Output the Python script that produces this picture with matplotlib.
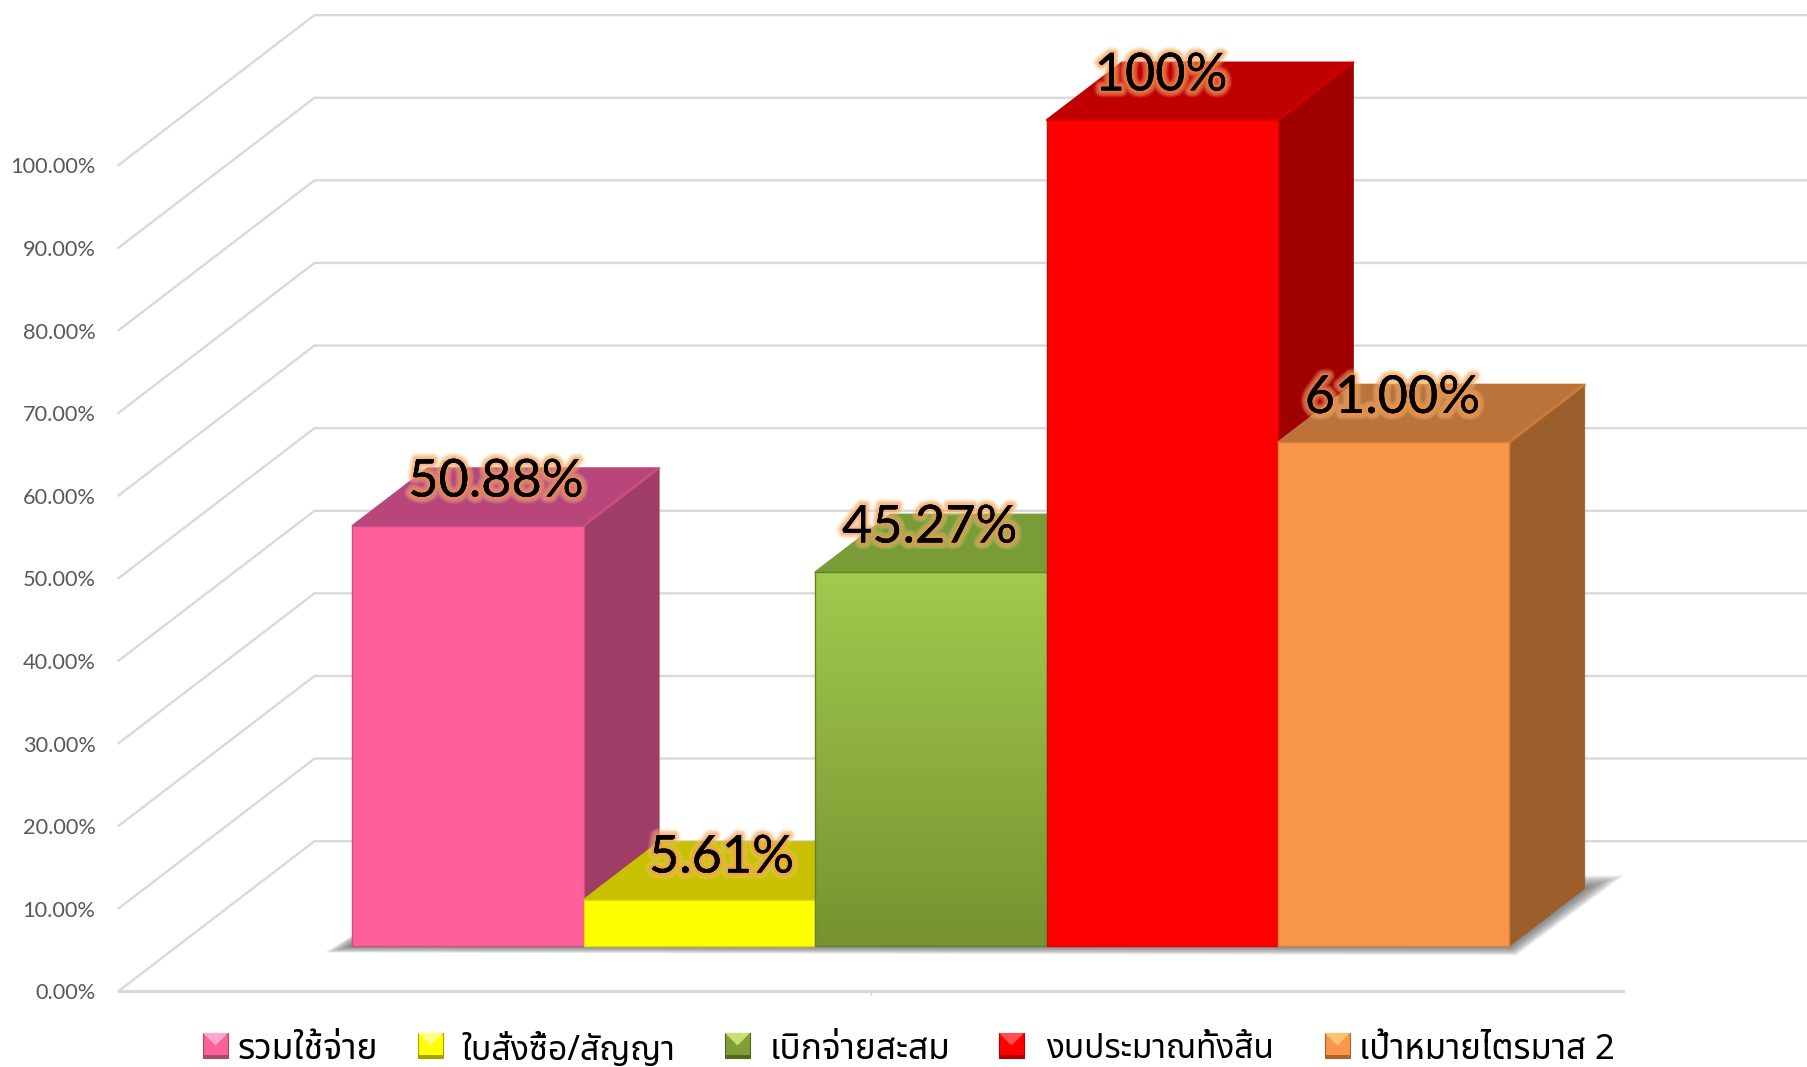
import numpy as np
import matplotlib
matplotlib.use("Agg")
from matplotlib import pyplot as plt
from matplotlib import patheffects as pe
from matplotlib.patches import Polygon, Rectangle

W, H = 1807, 1067

# values
categories = ["รวมใช้จ่าย", "ใบสั่งซื้อ/สัญญา", "เบิกจ่ายสะสม", "งบประมาณทั้งสิ้น", "เป้าหมายไตรมาส 2"]
values = [50.88, 5.61, 45.27, 100, 61.00]
value_labels = ["50.88%", "5.61%", "45.27%", "100%", "61.00%"]
ticks = [0, 10, 20, 30, 40, 50, 60, 70, 80, 90, 100]

front_colors = ["#ff6099", "#ffff00", "#7f9f36", "#ff0000", "#f9964a"]
edge_colors = ["#c8507f", "#e0e000", "#64802a", "#e00000", "#d98238"]
top_colors = ["#b8467a", "#c8c000", "#799c36", "#c00000", "#bb7339"]
side_colors = ["#9f3d66", "#c8c000", "#5f7a28", "#a00000", "#9c5f2c"]
legend_light = ["#ffa6cc", "#ffff80", "#c8e070", "#ff5050", "#ffc070"]
legend_dark = ["#a84a72", "#a8a000", "#4f6a20", "#b00000", "#a8652c"]

# oblique projection of the floor
UNIT_X = 231.4   # px per bar width
UNIT_Y = 8.26    # px per percent
ORIGIN_X = 118.7
ORIGIN_Y = 991.0
DX = 0.846
DY = 18.14
D0 = 0.30        # bar front depth
D1 = 0.685       # bar back depth
FLOOR_W = 6.5
FIRST_BAR = 0.756

plt.rcParams["font.family"] = ["Lato", "DejaVu Sans"]
fig = plt.figure(figsize=(W / 100, H / 100), dpi=100)
ax = fig.add_axes([0, 0, 1, 1])
ax.set_xlim(-ORIGIN_X / UNIT_X, (W - ORIGIN_X) / UNIT_X)
ax.set_ylim((ORIGIN_Y - H) / UNIT_Y, ORIGIN_Y / UNIT_Y)
ax.axis("off")


def proj(x, y, d):
    return (x + d * DX, y + d * DY)


# walls
for t in ticks:
    a = proj(0, t, 0)
    b = proj(0, t, 1)
    c = proj(10, t, 1)
    ax.plot([a[0], b[0], c[0]], [a[1], b[1], c[1]], color="#d9d9d9", lw=1.7, zorder=1,
            solid_joinstyle="miter")
a = proj(0, 0, 0)
b = proj(FLOOR_W, 0, 0)
ax.plot([a[0], b[0]], [a[1], b[1]], color="#d9d9d9", lw=2.2, zorder=1)
# the single category tick
ax.plot([FLOOR_W / 2, FLOOR_W / 2], [-0.2, -0.45], color="#d9d9d9", lw=0.8, zorder=1)

for t in ticks:
    ax.text(-0.1, t - 0.3, "{:.2f}%".format(t), ha="right", va="center", fontsize=15.7, color="#595959", zorder=1)

# soft shadow on the floor: stacked outlines going from the footprint to the outer edge
x_end = FIRST_BAR + len(values)
inner = np.array([proj(FIRST_BAR, 0, D0), proj(x_end, 0, D0), proj(x_end, 0, D1), proj(FIRST_BAR, 0, D1)])
outer = np.array([proj(FIRST_BAR - 0.12, -0.8, D0), proj(x_end + 0.03, -1.1, D0), proj(x_end + 0.17, 1.6, D1),
                  proj(FIRST_BAR, 0, D1)])
for k in np.linspace(1, 0, 14):
    ax.add_patch(Polygon(inner + k * (outer - inner), closed=True, fc="#5f5f5f", ec="none", alpha=0.09, zorder=2))

# bars, left to right so each one covers what is behind it
for i, v in enumerate(values):
    x0 = FIRST_BAR + i
    x1 = x0 + 1
    z = 3 + i
    side = [proj(x1, 0, D0), proj(x1, 0, D1), proj(x1, v, D1), proj(x1, v, D0)]
    top = [proj(x0, v, D0), proj(x1, v, D0), proj(x1, v, D1), proj(x0, v, D1)]
    front = [proj(x0, 0, D0), proj(x1, 0, D0), proj(x1, v, D0), proj(x0, v, D0)]
    ax.add_patch(Polygon(side, closed=True, fc=side_colors[i], ec=side_colors[i], lw=0.6, zorder=z))
    ax.add_patch(Polygon(top, closed=True, fc=top_colors[i], ec=top_colors[i], lw=1.2, zorder=z,
                         joinstyle="round"))
    # lighter bevel along the top edge of the side
    p = proj(x1, v, D0)
    q = proj(x1, v, D1)
    ax.plot([p[0], q[0]], [p[1], q[1]], color=front_colors[i], lw=2.2, alpha=0.28, zorder=z)
    if i == 2:
        # green bar has a vertical gradient
        grad = np.linspace(0, 1, 256)[:, None, None] * (np.array([0xa2, 0xca, 0x4e]) - np.array([0x76, 0x93, 0x2f])) \
            + np.array([0x76, 0x93, 0x2f])
        xa, ya = proj(x0, 0, D0)
        xb, yb = proj(x1, v, D0)
        ax.imshow(grad.astype(np.uint8), extent=(xa, xb, ya, yb), origin="lower", aspect="auto", zorder=z + 0.1)
        ax.add_patch(Polygon(front, closed=True, fc="none", ec=edge_colors[i], lw=1.0, zorder=z + 0.2,
                             joinstyle="round"))
    else:
        ax.add_patch(Polygon(front, closed=True, fc=front_colors[i], ec=edge_colors[i], lw=1.0, zorder=z + 0.1,
                             joinstyle="round"))

ax.set_xlim(-ORIGIN_X / UNIT_X, (W - ORIGIN_X) / UNIT_X)
ax.set_ylim((ORIGIN_Y - H) / UNIT_Y, ORIGIN_Y / UNIT_Y)

# value labels with the orange glow
label_shift = [0.12, 0.095, -0.005, -0.005, -0.005]
label_lift = [5.3, 5.05, 5.35, 5.35, 5.3]
glow = [pe.withStroke(linewidth=10, foreground="#fbd49c", alpha=0.14),
        pe.withStroke(linewidth=8, foreground="#fbc98a", alpha=0.22),
        pe.withStroke(linewidth=6, foreground="#f79646", alpha=0.3),
        pe.withStroke(linewidth=3.5, foreground="#f79646", alpha=0.4),
        pe.Normal()]
for i, v in enumerate(values):
    cx, cy = proj(FIRST_BAR + i + 0.5, v, D0)
    ax.text(cx + label_shift[i], cy + label_lift[i], value_labels[i], ha="center", va="center", fontsize=37.6,
            color="black", fontweight="normal", zorder=20, path_effects=glow)

# legend
swatch_left = [203, 418, 725, 999, 1325]
text_left = [238, 461, 770, 1046, 1359]
legend_size = [25.6, 24.4, 25.4, 24, 25]
for i, name in enumerate(categories):
    x0 = swatch_left[i] / W
    x1 = (swatch_left[i] + 25) / W
    y0 = 1 - 1058 / H
    y1 = 1 - 1033 / H
    xm = (x0 + x1) / 2
    ym = (y0 + y1) / 2
    fig.add_artist(Rectangle((x0, y0), x1 - x0, y1 - y0, transform=fig.transFigure, fc=front_colors[i],
                             ec=legend_dark[i], lw=0.8))
    fig.add_artist(Polygon([(x0, y1), (x1, y1), (xm, ym)], closed=True, transform=fig.transFigure,
                           fc=legend_light[i], ec="none"))
    fig.add_artist(Polygon([(x0, y0), (x1, y0), (x1, y0 + 3 / H), (x0, y0 + 3 / H)], closed=True,
                           transform=fig.transFigure, fc=legend_dark[i], ec="none"))
    fig.text(text_left[i] / W, 1 - 1050 / H, name, ha="left", va="center", fontsize=legend_size[i], color="black",
             family=["Noto Sans", "Noto Sans Thai", "Liberation Sans", "DejaVu Sans"])

fig.savefig("out.png", dpi=100)
